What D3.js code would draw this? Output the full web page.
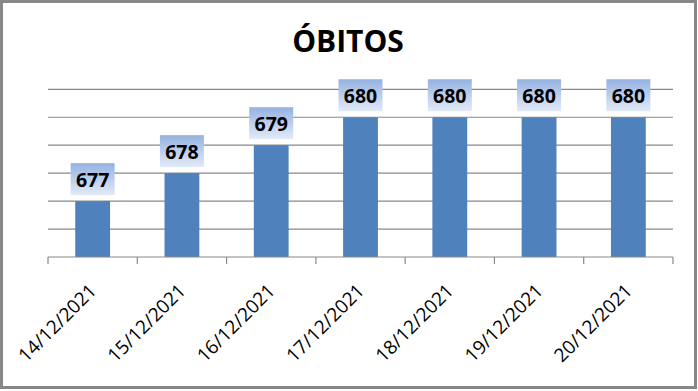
<!DOCTYPE html>
<html>
<head>
<meta charset="utf-8">
<script src="https://cdn.jsdelivr.net/npm/d3@7"></script>
<style>
  body { margin: 0; background: #fff; }
  text { font-family: "Open Sans", sans-serif; }
</style>
</head>
<body>
<div id="chart"></div>
<script>
/* data */
var dates = ["14/12/2021", "15/12/2021", "16/12/2021", "17/12/2021", "18/12/2021", "19/12/2021", "20/12/2021"];
var obitos = [677, 678, 679, 680, 680, 680, 680];
var yDomain = [675, 681];
var gridValues = [676, 677, 678, 679, 680, 681];
var title = "ÓBITOS";

var W = 698, H = 391;
var margin = { top: 89.3, right: 25, bottom: 134, left: 48 };
var width = W - margin.left - margin.right;
var height = H - margin.top - margin.bottom;

var svg = d3.select("#chart").append("svg")
    .attr("width", W)
    .attr("height", H);

// label box gradient
var grad = svg.append("defs").append("linearGradient")
    .attr("id", "lblGrad")
    .attr("x1", 0).attr("y1", 0).attr("x2", 0).attr("y2", 1);
grad.append("stop").attr("offset", "0%").attr("stop-color", "#95b2e2");
grad.append("stop").attr("offset", "100%").attr("stop-color", "#e3eaf7");

// outer frame
svg.append("rect")
    .attr("x", 1.5).attr("y", 1.5)
    .attr("width", W - 4).attr("height", H - 5)
    .attr("fill", "#fff")
    .attr("stroke", "#878787")
    .attr("stroke-width", 3);

svg.append("text")
    .attr("x", 348).attr("y", 52)
    .attr("text-anchor", "middle")
    .attr("font-size", 30)
    .attr("font-weight", "bold")
    .attr("fill", "#000")
    .text(title);

var g = svg.append("g")
    .attr("transform", "translate(" + margin.left + "," + margin.top + ")");

var x = d3.scaleBand()
    .domain(dates)
    .range([0, width])
    .paddingInner(0.61)
    .paddingOuter(0.305);

var y = d3.scaleLinear()
    .domain(yDomain)
    .range([height, 0]);

// gridlines
g.selectAll(".grid")
    .data(gridValues)
    .enter().append("line")
    .attr("class", "grid")
    .attr("x1", 0).attr("x2", width)
    .attr("y1", function (d) { return y(d); })
    .attr("y2", function (d) { return y(d); })
    .attr("stroke", "#898989")
    .attr("stroke-width", 1.2);

// bars
g.selectAll(".bar")
    .data(obitos)
    .enter().append("rect")
    .attr("class", "bar")
    .attr("x", function (d, i) { return x(dates[i]); })
    .attr("width", x.bandwidth())
    .attr("y", function (d) { return y(d); })
    .attr("height", function (d) { return height - y(d); })
    .attr("fill", "#4f81bd");

// baseline + boundary ticks
g.append("line")
    .attr("x1", 0).attr("x2", width)
    .attr("y1", height).attr("y2", height)
    .attr("stroke", "#898989")
    .attr("stroke-width", 1.2);

var step = x.step();
var bounds = d3.range(dates.length + 1).map(function (i) { return i * step; });
g.selectAll(".tick")
    .data(bounds)
    .enter().append("line")
    .attr("class", "tick")
    .attr("x1", function (d) { return d; })
    .attr("x2", function (d) { return d; })
    .attr("y1", height).attr("y2", height + 7)
    .attr("stroke", "#898989")
    .attr("stroke-width", 1.2);

// value labels
var boxW = 44, boxH = 32, gap = 6;
var lbl = g.selectAll(".lbl")
    .data(obitos)
    .enter().append("g")
    .attr("class", "lbl")
    .attr("transform", function (d, i) {
      var cx = x(dates[i]) + x.bandwidth() / 2;
      return "translate(" + cx + "," + (y(d) - gap - boxH) + ")";
    });
lbl.append("rect")
    .attr("x", -boxW / 2).attr("y", 0)
    .attr("width", boxW).attr("height", boxH)
    .attr("fill", "url(#lblGrad)");
lbl.append("text")
    .attr("x", 0).attr("y", 23.5)
    .attr("text-anchor", "middle")
    .attr("font-size", 19.5)
    .attr("font-weight", "bold")
    .attr("fill", "#000")
    .text(function (d) { return d; });

// category labels
g.selectAll(".xlab")
    .data(dates)
    .enter().append("text")
    .attr("class", "xlab")
    .attr("text-anchor", "end")
    .attr("font-size", 19)
    .attr("fill", "#000")
    .attr("transform", function (d) {
      var cx = x(d) + x.bandwidth() / 2 + 5;
      return "translate(" + cx + "," + (height + 35) + ") rotate(-45)";
    })
    .text(function (d) { return d; });
</script>
</body>
</html>
